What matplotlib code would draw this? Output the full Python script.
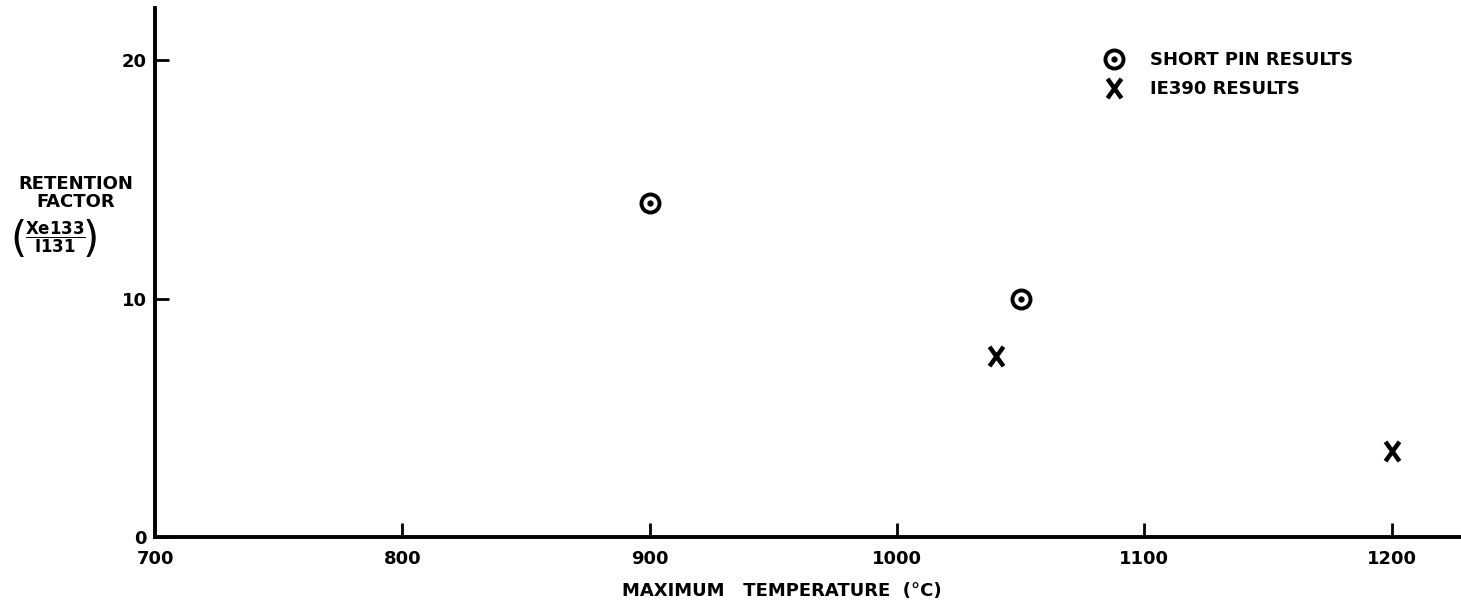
'''Retention factor vs maximum temperature'''

import matplotlib
matplotlib.use('Agg')
import matplotlib.pyplot as plt
from matplotlib.path import Path

# data
short_pin_temp = [900, 1050]
short_pin_factor = [14.0, 10.0]
ie390_temp = [1040, 1200]
ie390_factor = [7.6, 3.6]

x_ticks = [700, 800, 900, 1000, 1100, 1200]
y_ticks = [0, 10, 20]

plt.rcParams['font.family'] = ['DejaVu Sans']
plt.rcParams['font.weight'] = 'bold'
plt.rcParams['mathtext.fontset'] = 'dejavusans'

# letter-like X marker (taller than wide)
x_marker = Path([(-0.72, -1), (0.72, 1), (-0.72, 1), (0.72, -1)],
                [Path.MOVETO, Path.LINETO, Path.MOVETO, Path.LINETO])

fig = plt.figure(figsize=(14.61, 6), dpi=100)
ax = fig.add_axes([155 / 1461, 63 / 600, 1306 / 1461, 529 / 600])

# short pin: ring with a dot in the middle
ring, = ax.plot(short_pin_temp, short_pin_factor, linestyle='none', marker='o',
                markersize=13, markerfacecolor='white', markeredgecolor='black',
                markeredgewidth=2.8)
dot, = ax.plot(short_pin_temp, short_pin_factor, linestyle='none', marker='o',
               markersize=3.5, color='black')
cross, = ax.plot(ie390_temp, ie390_factor, linestyle='none', marker=x_marker,
                 markersize=14, markerfacecolor='none', markeredgecolor='black',
                 markeredgewidth=3.2)

ax.set_xlim(701, 1228)
ax.set_ylim(0, 22.2)
ax.set_xticks(x_ticks)
ax.set_yticks(y_ticks)
ax.tick_params(direction='in', length=10, width=2, labelsize=13, colors='black')
ax.tick_params(axis='x', pad=9)
ax.tick_params(axis='y', pad=6)

for side in ['top', 'right']:
    ax.spines[side].set_visible(False)
for side in ['left', 'bottom']:
    ax.spines[side].set_linewidth(2.8)

ax.set_xlabel('MAXIMUM   TEMPERATURE  (°C)', fontsize=13, fontweight='bold')
ax.xaxis.set_label_coords(0.48, -0.085)

# y label as separate text
fig.text(76 / 1461, 1 - 193 / 600, 'RETENTION\nFACTOR', ha='center', va='center',
         fontsize=13, fontweight='bold', linespacing=1.05)
fig.text(55 / 1461, 1 - 237 / 600, r'$\dfrac{\mathbf{Xe133}}{\mathbf{I131}}$',
         ha='center', va='center', fontsize=12)
fig.text(19 / 1461, 1 - 240 / 600, '(', ha='center', va='center',
         fontsize=30, fontweight='normal')
fig.text(91 / 1461, 1 - 240 / 600, ')', ha='center', va='center',
         fontsize=30, fontweight='normal')

ax.legend([(ring, dot), cross], ['SHORT PIN RESULTS', 'IE390 RESULTS'],
          loc='upper left', bbox_to_anchor=(1096 / 1461, 1 - 51 / 600),
          bbox_transform=fig.transFigure, frameon=False, borderpad=0,
          borderaxespad=0, handletextpad=1.0, labelspacing=0.62,
          prop={'size': 13, 'weight': 'bold'})

plt.savefig('out.png', dpi=100)
